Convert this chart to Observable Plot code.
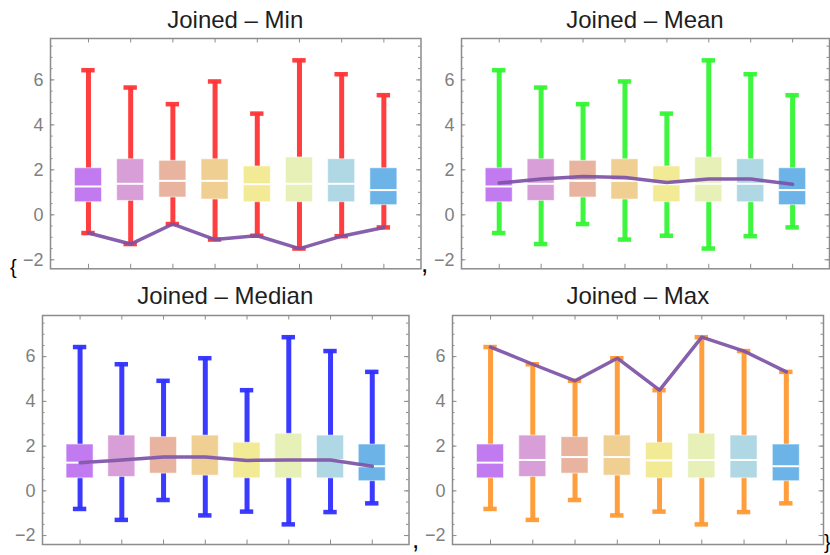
<!DOCTYPE html>
<html><head><meta charset="utf-8">
<script src="https://cdn.jsdelivr.net/npm/d3@7"></script>
<script src="https://cdn.jsdelivr.net/npm/@observablehq/plot@0.6"></script>
<style>
html,body{margin:0;padding:0;background:#fff;}
#root{position:relative;width:830px;height:555px;overflow:hidden;font-family:"Liberation Sans",Arial,sans-serif;}
.panel{position:absolute;}
#overlay{position:absolute;left:0;top:0;pointer-events:none;}
</style></head><body><div id="root"></div>
<script>
// ---- data ----
const categories = [1, 2, 3, 4, 5, 6, 7, 8];
const mins    = [-0.81, -1.30, -0.41, -1.10, -0.93, -1.50, -0.95, -0.56];
const q1s     = [0.56, 0.62, 0.77, 0.68, 0.56, 0.56, 0.56, 0.43];
const medians = [1.26, 1.38, 1.51, 1.51, 1.36, 1.38, 1.38, 1.10];
const q3s     = [2.07, 2.47, 2.40, 2.47, 2.15, 2.55, 2.47, 2.07];
const maxs    = [6.43, 5.66, 4.92, 5.93, 4.50, 6.87, 6.25, 5.32];
const means   = [1.41, 1.59, 1.70, 1.66, 1.44, 1.59, 1.59, 1.36];
const boxColors = ["#c17af0", "#d89ed8", "#e8b4a0", "#f0cf93", "#f3ea96", "#e6f0b7", "#b0d8e4", "#6cb4e8"];
const panelTitles = ["Joined \u2013 Min", "Joined \u2013 Mean", "Joined \u2013 Median", "Joined \u2013 Max"];
const joinedKeys = ["min", "mean", "median", "max"];
const whiskerColors = ["#ff3535", "#33f533", "#3030ff", "#ff9933"];
const yTickLabels = [-2, 0, 2, 4, 6];
const yMinorTicks = [-2, -1.5, -1, -0.5, 0, 0.5, 1, 1.5, 2, 2.5, 3, 3.5, 4, 4.5, 5, 5.5, 6, 6.5, 7, 7.5];
const xTicks = categories;

const table = categories.map((c, i) => ({
  i: c, min: mins[i], q1: q1s[i], median: medians[i], q3: q3s[i], max: maxs[i], mean: means[i], color: boxColors[i]
}));

// panel frames (page px)
const panels = [
  {L: 50,    T: 38,  W: 370.5, H: 230.3},
  {L: 461,   T: 38,  W: 368,   H: 230.3},
  {L: 42,    T: 315, W: 366.5, H: 229},
  {L: 452.3, T: 315, W: 371,   H: 229}
];
const titleBaselines = [27.5, 27.5, 303.5, 303.5];

const root = document.getElementById("root");
const gray = "#8c8c8c";
const ml = 50, mr = 6, mt = 6, mb = 6;

panels.forEach((p, k) => {
  const chart = Plot.plot({
    width: p.W + ml + mr,
    height: p.H + mt + mb,
    marginLeft: ml, marginRight: mr, marginTop: mt, marginBottom: mb,
    x: {domain: [0.1, 8.88], axis: null},
    y: {domain: [-2.4, 7.84], axis: null},
    style: {fontFamily: "'Liberation Sans', Arial, sans-serif", background: "transparent", overflow: "visible"},
    marks: [
      // whiskers
      Plot.ruleX(table, {x: "i", y1: "min", y2: "max", stroke: whiskerColors[k], strokeWidth: 5, strokeOpacity: 0.95}),
      // caps
      Plot.ruleY(table, {y: "max", x1: "i", x2: "i", insetLeft: -6.7, insetRight: -6.7, stroke: whiskerColors[k], strokeWidth: 4.5, strokeOpacity: 0.95}),
      Plot.ruleY(table, {y: "min", x1: "i", x2: "i", insetLeft: -6.7, insetRight: -6.7, stroke: whiskerColors[k], strokeWidth: 4.5, strokeOpacity: 0.95}),
      // boxes
      Plot.rect(table, {x1: "i", x2: "i", y1: "q1", y2: "q3", insetLeft: -13.5, insetRight: -13.5, fill: "color", stroke: "white", strokeOpacity: 0.55, strokeWidth: 1}),
      // median
      Plot.ruleY(table, {y: "median", x1: "i", x2: "i", insetLeft: -13.5, insetRight: -13.5, stroke: "white", strokeWidth: 2}),
      // joined line
      Plot.line(table, {x: "i", y: joinedKeys[k], stroke: "#7d52a6", strokeWidth: 3.5, strokeOpacity: 0.92}),
      // frame and ticks
      Plot.frame({stroke: gray, strokeWidth: 1.5}),
      Plot.ruleY(yMinorTicks, {y: d => d, insetRight: p.H ? p.W - 2.5 : 0, stroke: gray, strokeWidth: 1}),
      Plot.ruleY(yMinorTicks, {y: d => d, insetLeft: p.W - 2.5, stroke: gray, strokeWidth: 1}),
      Plot.ruleY(yTickLabels, {y: d => d, insetRight: p.W - 4.5, stroke: gray, strokeWidth: 1}),
      Plot.ruleY(yTickLabels, {y: d => d, insetLeft: p.W - 4.5, stroke: gray, strokeWidth: 1}),
      Plot.ruleX(xTicks, {x: d => d, insetTop: p.H - 4.5, stroke: gray, strokeWidth: 1}),
      Plot.ruleX(xTicks, {x: d => d, insetBottom: p.H - 4.5, stroke: gray, strokeWidth: 1}),
      Plot.axisY(yTickLabels, {anchor: "left", tickSize: 0, tickPadding: 7, fontSize: 18, color: "#808080"})
    ]
  });
  chart.classList.add("panel");
  chart.style.left = (p.L - ml) + "px";
  chart.style.top = (p.T - mt) + "px";
  root.appendChild(chart);
});

// overlay text: titles and list punctuation
const ns = "http://www.w3.org/2000/svg";
const ov = document.createElementNS(ns, "svg");
ov.setAttribute("id", "overlay");
ov.setAttribute("width", 830);
ov.setAttribute("height", 555);
function addText(str, x, y, size, anchor, fill) {
  const t = document.createElementNS(ns, "text");
  t.setAttribute("x", x); t.setAttribute("y", y);
  t.setAttribute("font-size", size);
  t.setAttribute("text-anchor", anchor);
  t.setAttribute("fill", fill);
  t.setAttribute("font-family", "'Liberation Sans', Arial, sans-serif");
  t.textContent = str;
  ov.appendChild(t);
}
panels.forEach((p, k) => addText(panelTitles[k], p.L + p.W / 2, titleBaselines[k], 24, "middle", "#1e1e1e"));
addText("{", 10, 274, 20, "start", "#000");
addText(",", 421, 272, 26, "start", "#000");
addText(",", 412, 548, 26, "start", "#000");
addText("}", 824, 549, 20, "start", "#000");
root.appendChild(ov);
</script></body></html>
